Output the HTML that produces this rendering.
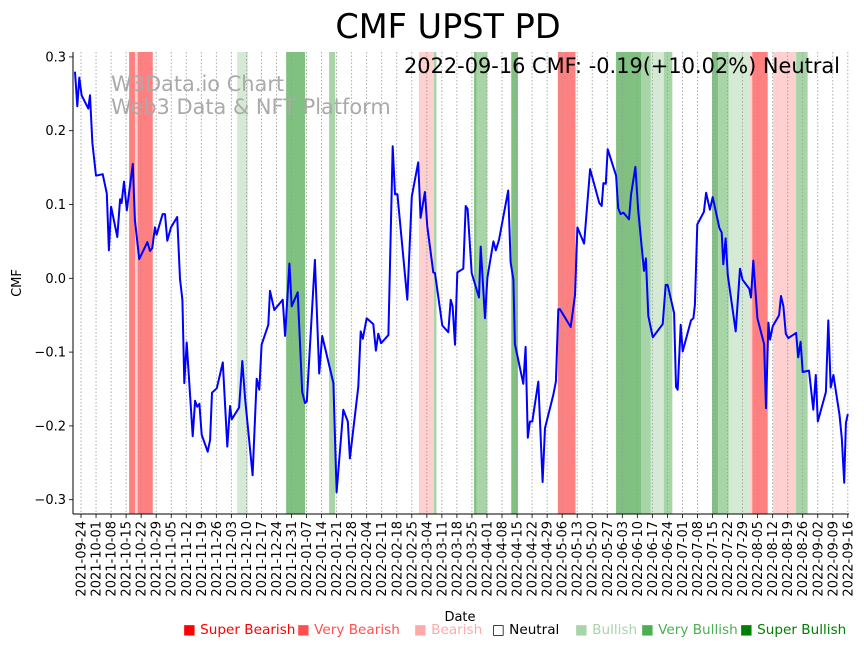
<!DOCTYPE html>
<html><head><meta charset="utf-8"><style>
html,body{margin:0;padding:0;background:#fff;}
svg{display:block;font-family:"DejaVu Sans","Liberation Sans",sans-serif;}
</style></head><body>
<svg id="chart" width="864" height="646" viewBox="0 0 864 646" xmlns="http://www.w3.org/2000/svg">
<text x="448" y="38" font-size="33.5" text-anchor="middle" fill="#000">CMF UPST PD</text>
<g id="bands"></g>
<g id="grid"></g>
<text x="111" y="91" font-size="20.9" fill="#aaa">W3Data.io Chart</text>
<text x="111" y="114" font-size="20.9" fill="#aaa">Web3 Data &amp; NFT Platform</text>
<text x="840" y="73" font-size="20.9" text-anchor="end" fill="#000">2022-09-16 CMF: -0.19(+10.02%) Neutral</text>
<g id="series"></g>
<g id="axes"></g>
<text x="460" y="621" font-size="13" text-anchor="middle">Date</text>
<text transform="translate(21,283) rotate(-90)" font-size="13" text-anchor="middle">CMF</text>
<g id="legend"></g>
</svg>
<script>
// data: day offsets from 2021-09-24 and CMF values
const days = [-2.8,-1.7,-0.8,0.3,3.4,4.2,5.3,7.0,10.1,12.0,13.0,14.0,16.9,18.2,18.9,20.0,21.3,24.1,25.1,27.1,30.9,32.1,33.2,34.4,35.2,38.0,39.1,40.2,41.9,44.8,46.1,47.2,48.1,49.2,52.0,53.1,54.1,55.1,56.2,59.0,60.1,61.0,63.2,66.0,68.1,69.4,70.2,73.6,75.1,76.4,79.9,81.8,83.0,84.1,87.2,88.0,90.0,93.9,95.0,97.0,98.1,100.9,103.0,104.3,105.1,108.9,110.9,112.3,117.5,119.0,122.1,124.2,125.2,129.1,130.2,131.2,133.0,136.1,137.3,138.4,139.7,143.1,145.1,146.2,147.3,151.9,154.0,157.0,158.1,160.1,161.2,164.0,164.8,168.2,171.0,172.1,173.0,174.1,175.2,178.0,179.1,180.0,181.9,185.3,186.1,188.1,189.2,192.0,193.1,194.6,196.3,198.9,200.0,201.3,202.0,205.9,207.0,208.0,209.0,210.1,212.9,214.9,216.0,219.9,221.1,222.2,223.0,228.0,230.0,231.1,234.2,237.0,241.3,242.4,243.2,244.3,245.2,249.1,250.1,251.2,252.5,255.1,256.1,258.1,259.4,262.1,263.0,264.1,266.2,270.8,272.2,273.1,276.1,277.0,277.8,279.2,280.1,284.0,285.1,285.8,286.9,290.0,291.0,292.8,294.1,297.2,298.3,299.0,300.1,301.1,304.8,306.8,308.0,311.1,311.9,313.0,314.9,318.0,318.9,320.0,320.8,322.0,325.0,325.9,327.0,328.1,329.3,332.9,333.9,335.0,336.0,338.9,340.9,342.1,343.0,346.8,347.9,349.0,350.3,353.1,354.2,355.3,356.1,357.0];
const cmf = [0.28,0.233,0.272,0.248,0.23,0.248,0.183,0.139,0.141,0.115,0.038,0.097,0.056,0.107,0.102,0.131,0.092,0.155,0.079,0.026,0.049,0.037,0.041,0.069,0.059,0.087,0.087,0.051,0.069,0.083,-0.001,-0.029,-0.142,-0.087,-0.214,-0.166,-0.174,-0.170,-0.212,-0.235,-0.219,-0.155,-0.149,-0.114,-0.228,-0.173,-0.191,-0.175,-0.112,-0.163,-0.267,-0.136,-0.151,-0.090,-0.063,-0.017,-0.043,-0.029,-0.078,0.020,-0.038,-0.019,-0.154,-0.169,-0.167,0.025,-0.129,-0.078,-0.142,-0.290,-0.178,-0.194,-0.244,-0.147,-0.072,-0.082,-0.054,-0.062,-0.098,-0.075,-0.088,-0.077,0.179,0.114,0.114,-0.029,0.111,0.157,0.082,0.117,0.070,0.008,0.007,-0.064,-0.073,-0.029,-0.038,-0.090,0.008,0.013,0.098,0.094,0.007,-0.026,0.043,-0.054,0.001,0.050,0.038,0.052,0.079,0.119,0.022,-0.002,-0.089,-0.143,-0.093,-0.216,-0.194,-0.194,-0.140,-0.276,-0.203,-0.158,-0.140,-0.042,-0.042,-0.066,-0.023,0.069,0.047,0.148,0.102,0.098,0.129,0.128,0.175,0.139,0.095,0.087,0.089,0.080,0.114,0.151,0.092,0.010,0.027,-0.051,-0.080,-0.062,-0.009,-0.009,-0.047,-0.147,-0.151,-0.063,-0.099,-0.057,-0.054,-0.036,0.073,0.090,0.116,0.093,0.110,0.068,0.062,0.019,0.054,0.004,-0.072,0.013,-0.002,-0.014,-0.026,0.024,-0.054,-0.089,-0.176,-0.060,-0.083,-0.065,-0.050,-0.024,-0.038,-0.075,-0.081,-0.074,-0.107,-0.086,-0.127,-0.125,-0.178,-0.131,-0.194,-0.154,-0.057,-0.148,-0.131,-0.185,-0.217,-0.277,-0.196,-0.184];
// signal bands (day offsets) and level
const bandStart = [22.4,25.1,72.7,95.5,115.5,157.3,164.3,183.0,184.2,200.3,222.0,249.1,260.7,265.3,271.3,293.8,296.6,301.6,311.5,312.5,322.2,332.9];
const bandEnd   = [33.4,26.4,77.7,104.3,118.3,164.3,165.5,184.2,189.2,203.4,230.2,260.7,265.3,271.3,275.3,296.6,301.6,311.5,312.5,319.7,332.9,338.3];
const bandLevel = ["vbear","bear","bull","sbull","vbull","bear","vbull","sbull","vbull","sbull","vbear","sbull","vbull","bull","vbull","sbull","vbull","bull","bear","vbear","bear","vbull"];
const yTicks = [0.3,0.2,0.1,0.0,-0.1,-0.2,-0.3];
const yTickLabels = ["0.3","0.2","0.1","0.0","\u22120.1","\u22120.2","\u22120.3"];
const legendLabels = ["Super Bearish","Very Bearish","Bearish","Neutral","Bullish","Very Bullish","Super Bullish"];

const NS="http://www.w3.org/2000/svg";
const L=73,R=849,T=52,B=514;
function xs(d){return 81+d*2.148;}
function ys(v){return 278.3-v*738;}
function mk(tag,attrs,parent){const e=document.createElementNS(NS,tag);for(const k in attrs)e.setAttribute(k,attrs[k]);parent.appendChild(e);return e;}
const bandColors={sbear:"#ff4040",vbear:"#ff8080",bear:"#ffd0d0",bull:"#d4ead4",vbull:"#a8d5a8",sbull:"#80c080"};

const gB=document.getElementById('bands');
for(let i=0;i<bandStart.length;i++){
  const r=mk('rect',{x:xs(bandStart[i]),y:T,width:xs(bandEnd[i])-xs(bandStart[i]),height:B-T,fill:bandColors[bandLevel[i]]},gB);
  
  
}
const gG=document.getElementById('grid'), gA=document.getElementById('axes');
const start=new Date(Date.UTC(2021,8,24));
for(let w=0;w<=51;w++){
  const x=xs(w*7);
  const ln=mk('line',{x1:x,x2:x,y1:T,y2:B,stroke:"#999","stroke-width":0.8,"stroke-dasharray":"1.5,2"},gG);
  
  
  mk('line',{x1:x,x2:x,y1:B,y2:B+4,stroke:"#000","stroke-width":0.8},gA);
  const dt=new Date(start.getTime()+w*7*86400000);
  const lab=dt.toISOString().slice(0,10);
  const t=mk('text',{transform:`translate(${x+4.5},${B+7}) rotate(-90)`,"font-size":13,"text-anchor":"end"},gA);
  t.textContent=lab;
  
  
}
for(let i=0;i<yTicks.length;i++){
  const y=ys(yTicks[i]);
  mk('line',{x1:L-4,x2:L,y1:y,y2:y,stroke:"#000","stroke-width":0.8},gA);
  const t=mk('text',{x:L-7,y:y+4.5,"font-size":13,"text-anchor":"end"},gA);
  t.textContent=yTickLabels[i];
  
  
}
const ax=mk('line',{x1:L,x2:L,y1:T,y2:B,stroke:"#000","stroke-width":1},gA);


const bx=mk('line',{x1:L,x2:R,y1:B,y2:B,stroke:"#000","stroke-width":1},gA);



const gS=document.getElementById('series');
const pts=days.map((d,i)=>xs(d).toFixed(1)+","+ys(cmf[i]).toFixed(1)).join(" ");
const pl=mk('polyline',{points:pts,fill:"none",stroke:"#0000ff","stroke-width":2,"stroke-linejoin":"round"},gS);



const gL=document.getElementById('legend');
const legColors=["#ff0000","#ff5050","#ffaaaa","#000","#a8d5a8","#4caf50","#008000"];
const legX=[183,297,414,492,575,641,740];
for(let i=0;i<legendLabels.length;i++){
  const t=mk('text',{x:legX[i],y:634,"font-size":13.6,fill:legColors[i]},gL);
  t.textContent=(i===3?"\u25A1 ":"\u25A0 ")+legendLabels[i];
  
  
}
</script>
</body></html>
